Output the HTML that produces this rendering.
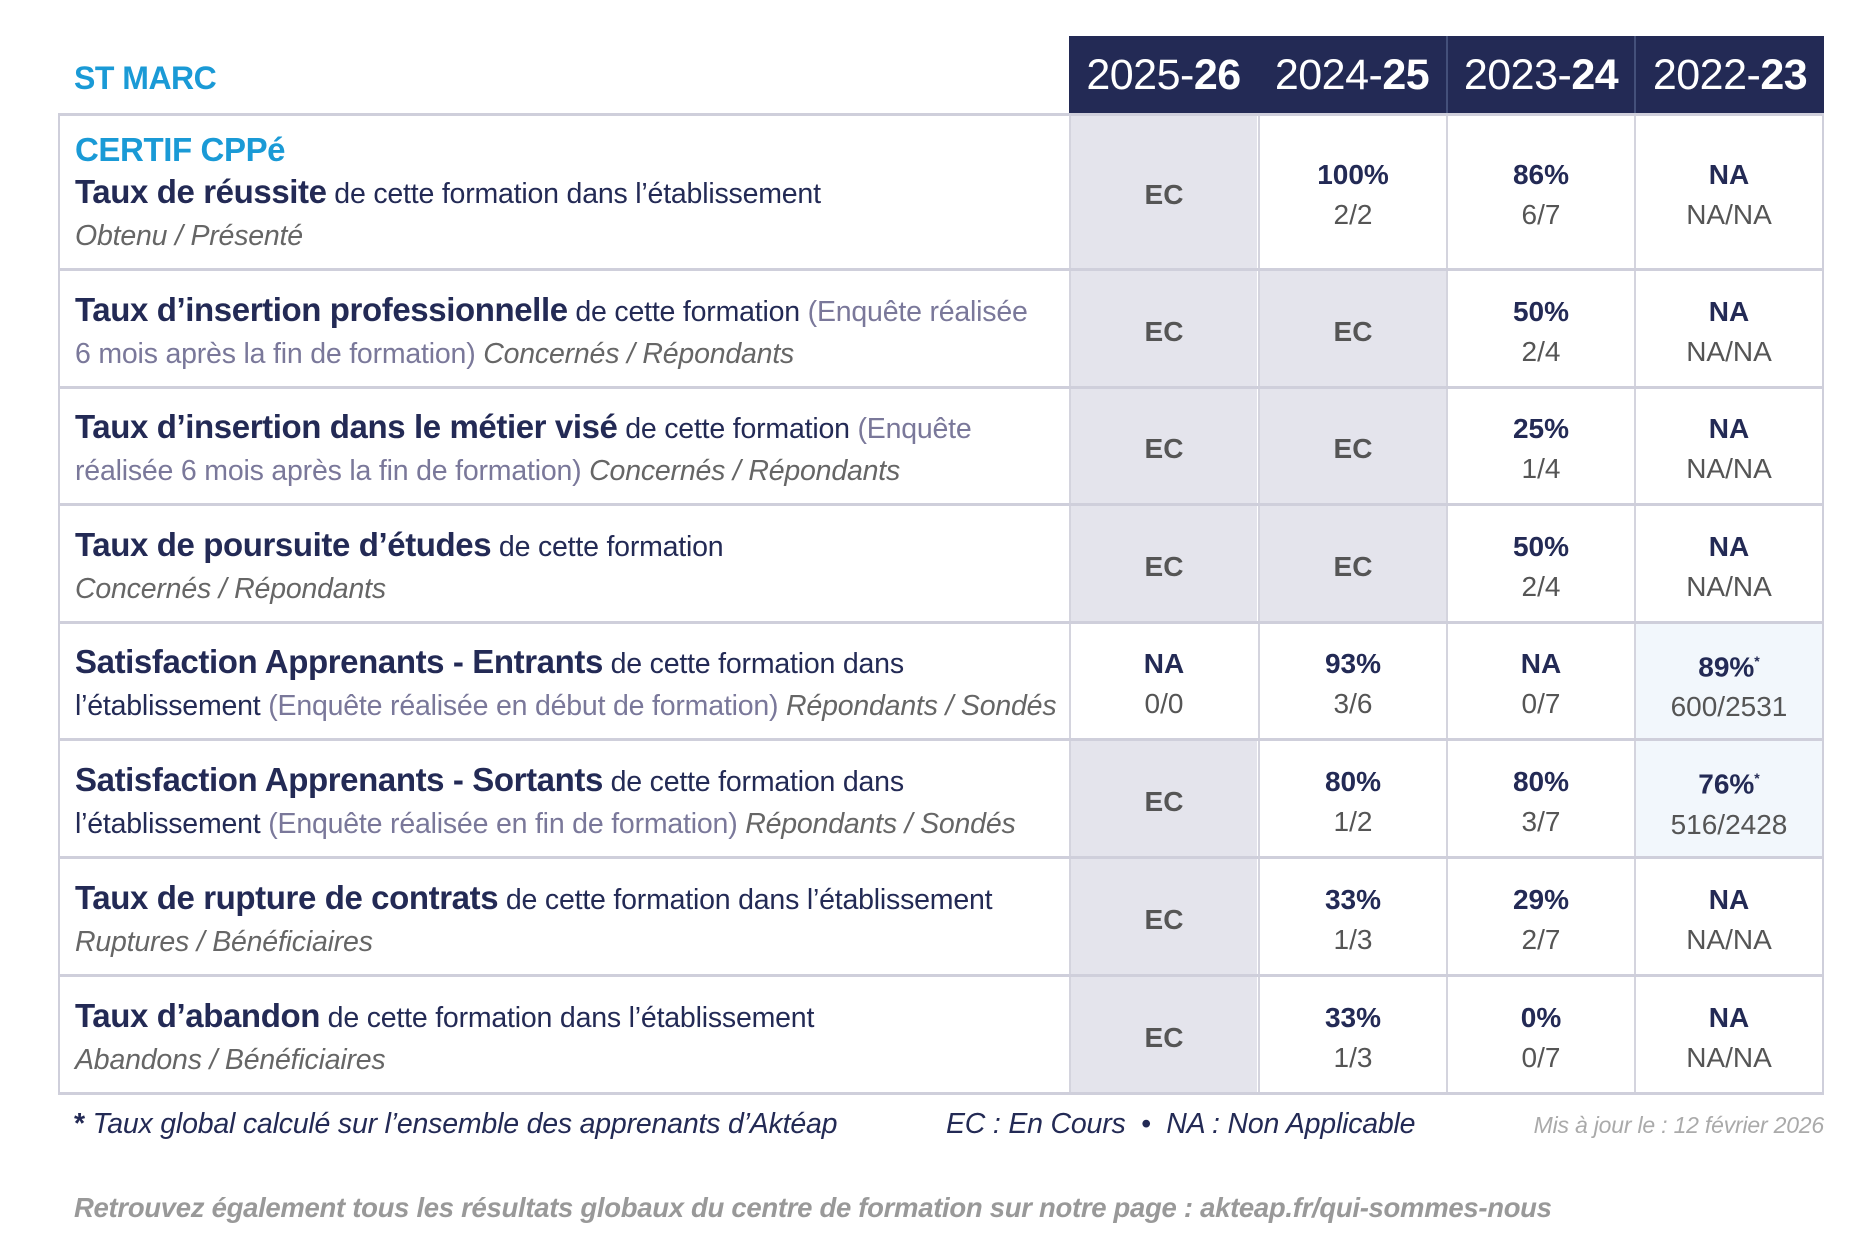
<!DOCTYPE html>
<html><head><meta charset="utf-8"><style>
*{margin:0;padding:0;box-sizing:border-box}
body{width:1875px;height:1250px;background:#fff;position:relative;overflow:hidden;font-family:"Liberation Sans",sans-serif;color:#232a55}
.a{position:absolute}
.hdr{background:#232a55;top:36px;height:79px;color:#fff;font-size:43px;letter-spacing:-0.5px;display:flex;align-items:center;justify-content:center}
.hdr b{font-weight:bold}
.row{position:absolute;left:58px;width:1766px;border-bottom:3px solid #cfcfdb}
.lab{position:absolute;left:0;width:1011px;top:0;bottom:0;display:flex;flex-direction:column;justify-content:center;padding:6px 0 0 17px;font-size:28.5px;letter-spacing:-0.2px;line-height:42px;white-space:nowrap;overflow:hidden}
.lab b{font-size:33px;letter-spacing:-0.4px}
.g{color:#7a789a}
.i{font-style:italic;color:#666}
.c{position:absolute;top:0;bottom:0;width:188px;display:flex;flex-direction:column;justify-content:center;align-items:center;padding-top:6px;font-size:28px;line-height:40px;border-left:2px solid #d4d4de}
.c b{font-weight:bold}
.c span{color:#555}
.ec{color:#555;font-weight:bold}
.sh{background:#e4e4ec}
.lb{background:#f2f7fc}
sup{font-size:14px}
</style></head><body>
<div class="a" style="left:74px;top:60px;font-size:32px;font-weight:bold;color:#1a9ad6;letter-spacing:-0.5px">ST MARC</div>
<div class="a hdr" style="left:1069px;width:189px">2025-<b>26</b></div>
<div class="a hdr" style="left:1258px;width:188px">2024-<b>25</b></div>
<div class="a hdr" style="left:1446px;width:188px;border-left:2px solid #44507a">2023-<b>24</b></div>
<div class="a hdr" style="left:1634px;width:190px;border-left:2px solid #44507a">2022-<b>23</b></div>
<div class="a" style="left:58px;top:113px;width:1766px;height:3px;background:#cfcfdb"></div>
<div class="a" style="left:58px;top:115px;width:2px;height:978px;background:#cfcfdb"></div>
<div class="a" style="left:1822px;top:115px;width:2px;height:978px;background:#cfcfdb"></div>

<div class="row" style="top:116px;height:155px">
<div class="lab" style="padding-top:2px"><b style="color:#1a9ad6">CERTIF CPPé</b><div><b>Taux de réussite</b> de cette formation dans l’établissement</div><div class="i">Obtenu / Présenté</div></div>
<div class="c sh ec" style="left:1011px">EC</div>
<div class="c" style="left:1200px"><b>100%</b><span>2/2</span></div>
<div class="c" style="left:1388px"><b>86%</b><span>6/7</span></div>
<div class="c" style="left:1576px"><b>NA</b><span>NA/NA</span></div>
</div>
<div class="row" style="top:271px;height:118px">
<div class="lab"><div><b>Taux d’insertion professionnelle</b> de cette formation <span class="g">(Enquête réalisée</span></div><div><span class="g">6 mois après la fin de formation)</span> <span class="i">Concernés / Répondants</span></div></div>
<div class="c sh ec" style="left:1011px">EC</div>
<div class="c sh ec" style="left:1200px">EC</div>
<div class="c" style="left:1388px"><b>50%</b><span>2/4</span></div>
<div class="c" style="left:1576px"><b>NA</b><span>NA/NA</span></div>
</div>
<div class="row" style="top:389px;height:117px">
<div class="lab"><div><b>Taux d’insertion dans le métier visé</b> de cette formation <span class="g">(Enquête</span></div><div><span class="g">réalisée 6 mois après la fin de formation)</span> <span class="i">Concernés / Répondants</span></div></div>
<div class="c sh ec" style="left:1011px">EC</div>
<div class="c sh ec" style="left:1200px">EC</div>
<div class="c" style="left:1388px"><b>25%</b><span>1/4</span></div>
<div class="c" style="left:1576px"><b>NA</b><span>NA/NA</span></div>
</div>
<div class="row" style="top:506px;height:118px">
<div class="lab"><div><b>Taux de poursuite d’études</b> de cette formation</div><div class="i">Concernés / Répondants</div></div>
<div class="c sh ec" style="left:1011px">EC</div>
<div class="c sh ec" style="left:1200px">EC</div>
<div class="c" style="left:1388px"><b>50%</b><span>2/4</span></div>
<div class="c" style="left:1576px"><b>NA</b><span>NA/NA</span></div>
</div>
<div class="row" style="top:624px;height:117px">
<div class="lab"><div><b>Satisfaction Apprenants - Entrants</b> de cette formation dans</div><div>l’établissement <span class="g">(Enquête réalisée en début de formation)</span> <span class="i">Répondants / Sondés</span></div></div>
<div class="c" style="left:1011px"><b>NA</b><span>0/0</span></div>
<div class="c" style="left:1200px"><b>93%</b><span>3/6</span></div>
<div class="c" style="left:1388px"><b>NA</b><span>0/7</span></div>
<div class="c lb" style="left:1576px"><b>89%<sup>*</sup></b><span>600/2531</span></div>
</div>
<div class="row" style="top:741px;height:118px">
<div class="lab"><div><b>Satisfaction Apprenants - Sortants</b> de cette formation dans</div><div>l’établissement <span class="g">(Enquête réalisée en fin de formation)</span> <span class="i">Répondants / Sondés</span></div></div>
<div class="c sh ec" style="left:1011px">EC</div>
<div class="c" style="left:1200px"><b>80%</b><span>1/2</span></div>
<div class="c" style="left:1388px"><b>80%</b><span>3/7</span></div>
<div class="c lb" style="left:1576px"><b>76%<sup>*</sup></b><span>516/2428</span></div>
</div>
<div class="row" style="top:859px;height:118px">
<div class="lab"><div><b>Taux de rupture de contrats</b> de cette formation dans l’établissement</div><div class="i">Ruptures / Bénéficiaires</div></div>
<div class="c sh ec" style="left:1011px">EC</div>
<div class="c" style="left:1200px"><b>33%</b><span>1/3</span></div>
<div class="c" style="left:1388px"><b>29%</b><span>2/7</span></div>
<div class="c" style="left:1576px"><b>NA</b><span>NA/NA</span></div>
</div>
<div class="row" style="top:977px;height:118px">
<div class="lab"><div><b>Taux d’abandon</b> de cette formation dans l’établissement</div><div class="i">Abandons / Bénéficiaires</div></div>
<div class="c sh ec" style="left:1011px">EC</div>
<div class="c" style="left:1200px"><b>33%</b><span>1/3</span></div>
<div class="c" style="left:1388px"><b>0%</b><span>0/7</span></div>
<div class="c" style="left:1576px"><b>NA</b><span>NA/NA</span></div>
</div>

<div class="a" style="left:74px;top:1108px;font-size:28.5px;letter-spacing:-0.2px;font-style:italic"><b style="font-style:normal">*</b> Taux global calculé sur l’ensemble des apprenants d’Aktéap</div>
<div class="a" style="left:946px;top:1108px;font-size:28.5px;letter-spacing:-0.2px;font-style:italic">EC : En Cours &nbsp;•&nbsp; NA : Non Applicable</div>
<div class="a" style="right:51px;top:1112px;font-size:23px;letter-spacing:-0.2px;font-style:italic;color:#aaa">Mis à jour le : 12 février 2026</div>
<div class="a" style="left:74px;top:1192px;font-size:27.5px;letter-spacing:-0.3px;font-style:italic;font-weight:bold;color:#999">Retrouvez également tous les résultats globaux du centre de formation sur notre page : akteap.fr/qui-sommes-nous</div>
</body></html>
